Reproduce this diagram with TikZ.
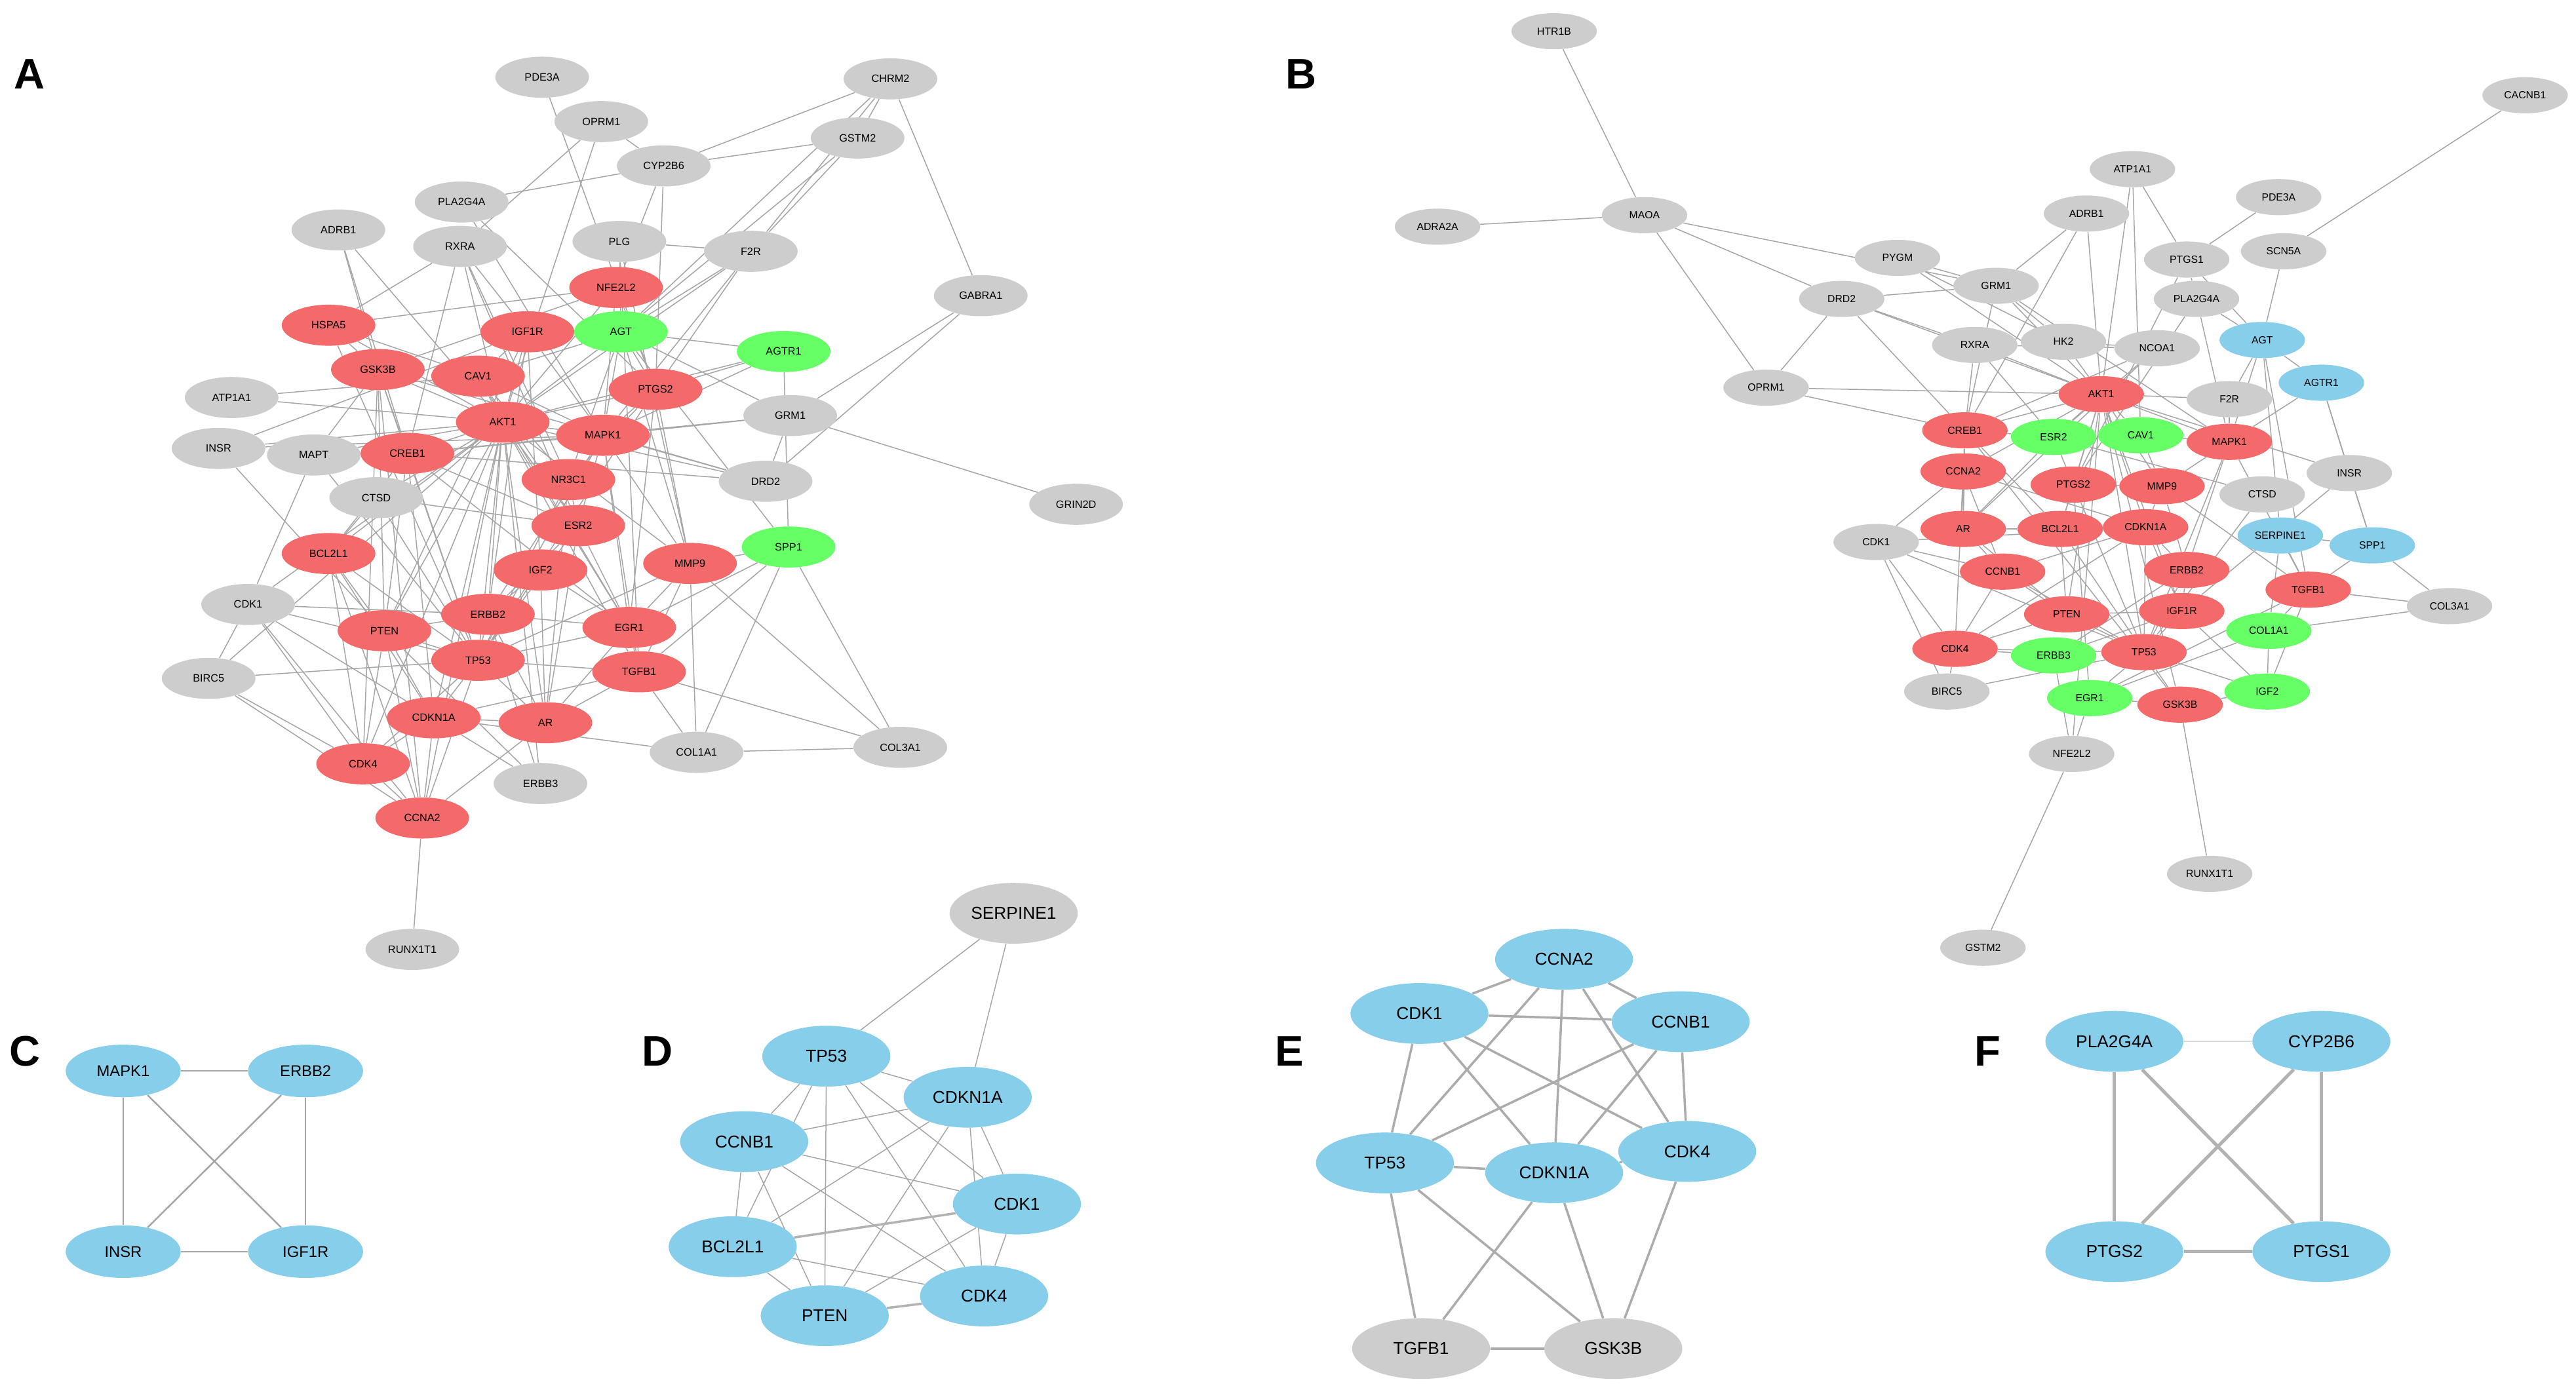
\documentclass[tikz,border=0pt]{standalone}
\usepackage{fontspec}
\setmainfont{Liberation Sans}
\usetikzlibrary{shapes.geometric}
\pgfdeclarelayer{bg}\pgfsetlayers{bg,main}
\definecolor{rd}{HTML}{F46A6A}
\definecolor{gn}{HTML}{66FF66}
\definecolor{bl}{HTML}{87CEEB}
\definecolor{gy}{HTML}{CDCDCD}
\tikzset{
 base/.style={ellipse,inner sep=0pt,draw=none},
 sa/.style={base,minimum width=57pt,minimum height=25pt,font=\fontsize{6.5}{7}\selectfont},
 sb/.style={base,minimum width=52pt,minimum height=22pt,font=\fontsize{6.3}{7}\selectfont},
 sc/.style={base,minimum width=70pt,minimum height=32pt,font=\fontsize{9.5}{11}\selectfont},
 se/.style={base,minimum width=84pt,minimum height=37pt,font=\fontsize{10.5}{12}\selectfont},
 e/.style={draw=gray!70,line width=0.6pt},
 ee/.style={draw=gray!60,line width=1.4pt},
 lab/.style={font=\fontsize{26}{28}\selectfont\bfseries},
}
\begin{document}
\begin{tikzpicture}[x=1pt,y=-1pt]
\useasboundingbox (0,0) rectangle (1568,846);
\node[lab] (LA) at (18,45) {A};
\node[lab] (LB) at (792,45) {B};
\node[lab] (LC) at (15,640) {C};
\node[lab] (LD) at (400,640) {D};
\node[lab] (LE) at (785,640) {E};
\node[lab] (LF) at (1210,640) {F};
% Panel A
\foreach \n/\x/\y/\c in {CHRM2/542/48/gy,PDE3A/330/47/gy,OPRM1/366/74/gy,GSTM2/522/84/gy,CYP2B6/404/101/gy,PLA2G4A/281/123/gy,ADRB1/206/140/gy,RXRA/280/150/gy,PLG/377/147/gy,F2R/457/153/gy,GABRA1/597/180/gy,NFE2L2/375/175/rd,HSPA5/200/198/rd,IGF1R/321/202/rd,AGT/378/202/gn,AGTR1/477/214/gn,GSK3B/230/225/rd,CAV1/291/229/rd,PTGS2/399/237/rd,ATP1A1/141/242/gy,AKT1/306/257/rd,MAPK1/367/265/rd,GRM1/481/253/gy,INSR/133/273/gy,MAPT/191/277/gy,CREB1/248/276/rd,NR3C1/346/292/rd,DRD2/466/293/gy,GRIN2D/655/307/gy,CTSD/229/303/gy,ESR2/352/320/rd,SPP1/480/333/gn,BCL2L1/200/337/rd,IGF2/329/347/rd,MMP9/420/343/rd,CDK1/151/368/gy,PTEN/234/384/rd,ERBB2/297/374/rd,EGR1/383/382/rd,BIRC5/127/413/gy,TP53/291/402/rd,TGFB1/389/409/rd,CDKN1A/264/437/rd,AR/332/440/rd,COL1A1/424/458/gy,COL3A1/548/455/gy,CDK4/221/465/rd,ERBB3/329/477/gy,CCNA2/257/498/rd,RUNX1T1/251/578/gy}
 \node[sa,fill=\c] (a\n) at (\x,\y) {\n};
\begin{pgfonlayer}{bg}
\foreach \u/\v in {CHRM2/CYP2B6,CHRM2/GSTM2,CHRM2/GABRA1,CHRM2/F2R,CHRM2/AGT,PDE3A/PTGS2,OPRM1/CYP2B6,OPRM1/AKT1,OPRM1/RXRA,CYP2B6/GSTM2,CYP2B6/PTGS2,CYP2B6/NFE2L2,CYP2B6/PLA2G4A,GSTM2/F2R,GSTM2/AGT,PLA2G4A/PTGS2,PLA2G4A/MAPK1,ADRB1/AKT1,ADRB1/CREB1,ADRB1/GSK3B,RXRA/IGF1R,RXRA/AKT1,RXRA/CREB1,RXRA/HSPA5,RXRA/NR3C1,RXRA/ESR2,PLG/AGT,PLG/MMP9,PLG/F2R,PLG/TGFB1,F2R/AGT,F2R/PTGS2,F2R/MAPK1,F2R/AKT1,GABRA1/GRM1,GABRA1/DRD2,GRM1/GRIN2D,GRM1/DRD2,GRM1/AGT,GRM1/MAPK1,GRM1/CREB1,DRD2/AKT1,DRD2/CREB1,DRD2/MAPK1,DRD2/GSK3B,AGTR1/AGT,AGTR1/MAPK1,AGTR1/PTGS2,AGTR1/AKT1,AGTR1/SPP1,SPP1/MMP9,SPP1/TGFB1,SPP1/COL1A1,SPP1/COL3A1,SPP1/EGR1,SPP1/AGT,COL1A1/COL3A1,COL1A1/TGFB1,COL1A1/MMP9,COL1A1/CDKN1A,COL3A1/TGFB1,COL3A1/MMP9,ATP1A1/AKT1,ATP1A1/CAV1,INSR/AKT1,INSR/IGF1R,INSR/MAPK1,INSR/PTEN,MAPT/GSK3B,MAPT/CDK1,MAPT/AKT1,MAPT/TP53,CTSD/TP53,CTSD/AKT1,CTSD/BCL2L1,CTSD/ESR2,CDK1/CCNA2,CDK1/CDK4,CDK1/CDKN1A,CDK1/TP53,CDK1/BIRC5,CDK1/ERBB2,CDK1/AKT1,BIRC5/TP53,BIRC5/CCNA2,BIRC5/CDK4,BIRC5/AKT1,ERBB3/ERBB2,ERBB3/AKT1,ERBB3/CDKN1A,ERBB3/PTEN,RUNX1T1/CCNA2,
 NFE2L2/AKT1,NFE2L2/MAPK1,NFE2L2/GSK3B,NFE2L2/HSPA5,NFE2L2/PTGS2,HSPA5/AKT1,HSPA5/CAV1,HSPA5/TP53,HSPA5/GSK3B,IGF1R/AKT1,IGF1R/MAPK1,IGF1R/IGF2,IGF1R/ERBB2,IGF1R/PTEN,IGF1R/CAV1,IGF1R/AGT,GSK3B/AKT1,GSK3B/CREB1,GSK3B/TP53,GSK3B/CCNA2,GSK3B/CDK4,GSK3B/PTEN,CAV1/AKT1,CAV1/MAPK1,CAV1/ESR2,CAV1/EGR1,CAV1/AGT,CAV1/NR3C1,PTGS2/MAPK1,PTGS2/AKT1,PTGS2/MMP9,PTGS2/TP53,PTGS2/EGR1,PTGS2/AGT,PTGS2/NR3C1,AKT1/MAPK1,AKT1/CREB1,AKT1/TP53,AKT1/PTEN,AKT1/BCL2L1,AKT1/CDKN1A,AKT1/ESR2,AKT1/MMP9,AKT1/AR,AKT1/CCNA2,AKT1/CDK4,AKT1/ERBB2,AKT1/EGR1,AKT1/TGFB1,AKT1/AGT,MAPK1/CREB1,MAPK1/ESR2,MAPK1/MMP9,MAPK1/EGR1,MAPK1/TP53,MAPK1/ERBB2,MAPK1/AGT,MAPK1/TGFB1,CREB1/BCL2L1,CREB1/TP53,CREB1/ESR2,CREB1/PTEN,CREB1/CDKN1A,CREB1/EGR1,NR3C1/ESR2,NR3C1/AR,NR3C1/TP53,NR3C1/AGT,ESR2/AR,ESR2/ERBB2,ESR2/EGR1,ESR2/TP53,BCL2L1/TP53,BCL2L1/PTEN,BCL2L1/CDKN1A,BCL2L1/CDK4,BCL2L1/CCNA2,IGF2/TP53,IGF2/ERBB2,IGF2/AR,IGF2/EGR1,MMP9/TGFB1,MMP9/EGR1,MMP9/TP53,MMP9/AGT,PTEN/TP53,PTEN/CDKN1A,PTEN/CDK4,PTEN/CCNA2,PTEN/ERBB2,ERBB2/TP53,ERBB2/AR,ERBB2/EGR1,EGR1/TP53,EGR1/TGFB1,EGR1/AR,TP53/CDKN1A,TP53/AR,TP53/CDK4,TP53/CCNA2,TP53/TGFB1,TGFB1/CDKN1A,TGFB1/AR,CDKN1A/CDK4,CDKN1A/CCNA2,CDKN1A/AR,CDK4/CCNA2,AR/CCNA2}
 \draw[e] (a\u) -- (a\v);
\end{pgfonlayer}
% Panel B
\foreach \n/\x/\y/\c in {HTR1B/946/19/gy,CACNB1/1537/58/gy,ADRA2A/875/138/gy,MAOA/1001/131/gy,ATP1A1/1298/103/gy,PDE3A/1387/120/gy,ADRB1/1270/130/gy,SCN5A/1390/153/gy,PYGM/1155/157/gy,PTGS1/1331/158/gy,GRM1/1215/174/gy,DRD2/1121/182/gy,PLA2G4A/1337/182/gy,RXRA/1202/210/gy,HK2/1256/208/gy,NCOA1/1313/212/gy,AGT/1377/207/bl,OPRM1/1075/236/gy,AKT1/1279/240/rd,AGTR1/1413/233/bl,F2R/1357/243/gy,CREB1/1196/262/rd,ESR2/1250/266/gn,CAV1/1303/265/gn,MAPK1/1357/269/rd,INSR/1430/288/gy,CCNA2/1195/287/rd,PTGS2/1262/295/rd,MMP9/1316/296/rd,CTSD/1377/301/gy,CDK1/1142/330/gy,AR/1195/322/rd,BCL2L1/1254/322/rd,CDKN1A/1306/321/rd,SERPINE1/1388/326/bl,SPP1/1444/332/bl,ERBB2/1331/347/rd,CCNB1/1219/348/rd,TGFB1/1405/359/rd,COL3A1/1491/369/gy,PTEN/1258/374/rd,IGF1R/1328/372/rd,COL1A1/1381/384/gn,CDK4/1190/395/rd,ERBB3/1250/399/gn,TP53/1305/397/rd,BIRC5/1185/421/gy,EGR1/1272/425/gn,GSK3B/1327/429/rd,IGF2/1380/421/gn,NFE2L2/1261/459/gy,RUNX1T1/1345/532/gy,GSTM2/1207/577/gy}
 \node[sb,fill=\c] (b\n) at (\x,\y) {\n};
\begin{pgfonlayer}{bg}
\foreach \u/\v in {HTR1B/MAOA,ADRA2A/MAOA,MAOA/DRD2,MAOA/OPRM1,MAOA/GRM1,CACNB1/SCN5A,SCN5A/AGT,PDE3A/PTGS1,ATP1A1/PTGS1,ATP1A1/AKT1,ATP1A1/CAV1,ADRB1/AKT1,ADRB1/CREB1,ADRB1/GRM1,PYGM/GRM1,PYGM/HK2,PYGM/AKT1,PTGS1/PLA2G4A,PTGS1/PTGS2,PTGS1/AGT,GRM1/DRD2,GRM1/CREB1,GRM1/MAPK1,GRM1/HK2,GRM1/AKT1,DRD2/OPRM1,DRD2/CREB1,DRD2/AKT1,DRD2/RXRA,PLA2G4A/PTGS2,PLA2G4A/MAPK1,PLA2G4A/AGT,RXRA/CREB1,RXRA/AKT1,RXRA/NCOA1,RXRA/ESR2,HK2/AKT1,HK2/NCOA1,NCOA1/ESR2,NCOA1/AR,NCOA1/CREB1,AGT/AGTR1,AGT/F2R,AGT/MAPK1,AGT/SERPINE1,AGT/TGFB1,OPRM1/CREB1,OPRM1/AKT1,AGTR1/MAPK1,AGTR1/SPP1,AGTR1/INSR,F2R/MAPK1,F2R/AKT1,INSR/AKT1,INSR/IGF1R,INSR/SPP1,CTSD/TP53,CTSD/ESR2,CDK1/CCNA2,CDK1/CCNB1,CDK1/CDK4,CDK1/TP53,CDK1/BIRC5,CDK1/CDKN1A,SERPINE1/TGFB1,SERPINE1/SPP1,SERPINE1/COL1A1,SPP1/COL3A1,SPP1/TGFB1,COL3A1/TGFB1,COL3A1/COL1A1,BIRC5/TP53,BIRC5/CDK4,NFE2L2/GSTM2,NFE2L2/EGR1,NFE2L2/AKT1,NFE2L2/ERBB3,RUNX1T1/GSK3B,
 AKT1/CREB1,AKT1/ESR2,AKT1/CAV1,AKT1/MAPK1,AKT1/PTGS2,AKT1/MMP9,AKT1/TP53,AKT1/PTEN,AKT1/BCL2L1,AKT1/CDKN1A,AKT1/GSK3B,AKT1/IGF1R,AKT1/CCNA2,CREB1/CCNA2,CREB1/BCL2L1,CREB1/ESR2,CREB1/AR,ESR2/CAV1,ESR2/AR,ESR2/PTGS2,CAV1/MAPK1,CAV1/MMP9,MAPK1/MMP9,MAPK1/ERBB2,MAPK1/TP53,MAPK1/TGFB1,CCNA2/AR,CCNA2/CCNB1,CCNA2/CDK4,CCNA2/CDKN1A,PTGS2/MMP9,PTGS2/BCL2L1,PTGS2/TP53,PTGS2/EGR1,MMP9/CDKN1A,MMP9/TGFB1,MMP9/ERBB2,AR/BCL2L1,AR/CCNB1,AR/PTEN,BCL2L1/CDKN1A,BCL2L1/PTEN,BCL2L1/TP53,CDKN1A/ERBB2,CDKN1A/TP53,CDKN1A/CDK4,CDKN1A/CCNB1,CDKN1A/IGF1R,ERBB2/IGF1R,ERBB2/ERBB3,ERBB2/TP53,CCNB1/PTEN,CCNB1/CDK4,CCNB1/TP53,TGFB1/COL1A1,TGFB1/EGR1,TGFB1/IGF2,PTEN/TP53,PTEN/IGF1R,PTEN/CDK4,IGF1R/IGF2,IGF1R/TP53,COL1A1/IGF2,COL1A1/EGR1,CDK4/TP53,CDK4/ERBB3,ERBB3/IGF1R,TP53/EGR1,TP53/GSK3B,TP53/IGF2,EGR1/GSK3B,GSK3B/CREB1,GSK3B/IGF2}
 \draw[e] (b\u) -- (b\v);
\end{pgfonlayer}
% Panel C
\foreach \n/\x/\y in {MAPK1/75/652,ERBB2/186/652,INSR/75/762,IGF1R/186/762}
 \node[sc,fill=bl] (c\n) at (\x,\y) {\n};
\begin{pgfonlayer}{bg}
\foreach \u/\v in {MAPK1/ERBB2,MAPK1/INSR,MAPK1/IGF1R,ERBB2/INSR,ERBB2/IGF1R,INSR/IGF1R}
 \draw[e,line width=1pt] (c\u) -- (c\v);
\end{pgfonlayer}
% Panel D
\node[se,fill=gy,minimum width=78pt] (dSERPINE1) at (617,556) {SERPINE1};
\foreach \n/\x/\y in {TP53/503/643,CDKN1A/589/668,CCNB1/453/695,CDK1/619/733,BCL2L1/446/759,CDK4/599/789,PTEN/502/801}
 \node[se,fill=bl,minimum width=78pt] (d\n) at (\x,\y) {\n};
\begin{pgfonlayer}{bg}
\foreach \u/\v in {SERPINE1/TP53,SERPINE1/CDKN1A,TP53/CDKN1A,TP53/CCNB1,TP53/CDK1,TP53/BCL2L1,TP53/CDK4,TP53/PTEN,CDKN1A/CCNB1,CDKN1A/CDK1,CDKN1A/BCL2L1,CDKN1A/CDK4,CDKN1A/PTEN,CCNB1/CDK1,CCNB1/BCL2L1,CCNB1/CDK4,CCNB1/PTEN,CDK1/CDK4,CDK1/PTEN,BCL2L1/CDK4,BCL2L1/PTEN,PTEN/CDK4}
 \draw[e] (d\u) -- (d\v);
\draw[ee] (dBCL2L1) -- (dCDK1);
\draw[ee] (dPTEN) -- (dCDK4);
\end{pgfonlayer}
% Panel E
\foreach \n/\x/\y/\c in {CCNA2/952/584/bl,CDK1/864/617/bl,CCNB1/1023/622/bl,TP53/843/708/bl,CDKN1A/946/714/bl,CDK4/1027/701/bl,TGFB1/865/821/gy,GSK3B/982/821/gy}
 \node[se,fill=\c] (e\n) at (\x,\y) {\n};
\begin{pgfonlayer}{bg}
\foreach \u/\v in {CCNA2/CDK1,CCNA2/CCNB1,CCNA2/CDKN1A,CCNA2/CDK4,CCNA2/TP53,CDK1/CCNB1,CDK1/TP53,CDK1/CDKN1A,CDK1/CDK4,CCNB1/CDKN1A,CCNB1/CDK4,CCNB1/TP53,TP53/CDKN1A,TP53/TGFB1,TP53/GSK3B,CDKN1A/CDK4,CDKN1A/TGFB1,CDKN1A/GSK3B,CDK4/GSK3B,TGFB1/GSK3B}
 \draw[ee,draw=gray!65] (e\u) -- (e\v);
\end{pgfonlayer}
% Panel F
\foreach \n/\x/\y in {PLA2G4A/1287/634,CYP2B6/1413/634,PTGS2/1287/762,PTGS1/1413/762}
 \node[se,fill=bl] (f\n) at (\x,\y) {\n};
\begin{pgfonlayer}{bg}
\draw[e,draw=gray!30] (fPLA2G4A) -- (fCYP2B6);
\foreach \u/\v in {PLA2G4A/PTGS2,PLA2G4A/PTGS1,CYP2B6/PTGS2,CYP2B6/PTGS1,PTGS2/PTGS1}
 \draw[ee,line width=2pt] (f\u) -- (f\v);
\end{pgfonlayer}
\end{tikzpicture}
\end{document}
